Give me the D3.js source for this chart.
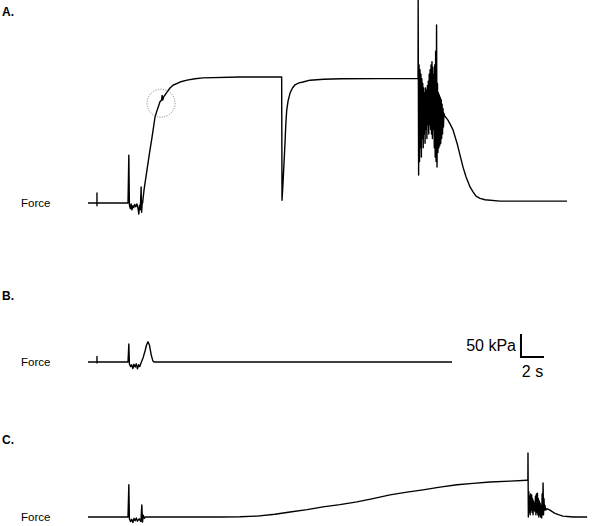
<!DOCTYPE html>
<html>
<head>
<meta charset="utf-8">
<script src="https://cdn.jsdelivr.net/npm/d3@7"></script>
<style>
  html, body { margin: 0; padding: 0; background: #fff; }
  svg { display: block; font-family: "Liberation Sans", Arial, sans-serif; }
</style>
</head>
<body>
<svg id="chart" width="600" height="526"></svg>
<script>
// Force traces, [time (s), force (kPa)]
const traceA = [
  [0, 0], [0.78, 0], [0.78, 22], [0.78, -6], [0.78, 0], [3.48, 0], [3.55, 104], [3.6, -4], [3.68, -12], [3.75, -2],
  [3.82, -15], [3.9, -6], [3.98, -10], [4.05, -3], [4.15, -8], [4.25, -2], [4.35, -12], [4.42, -24], [4.48, -5],
  [4.55, -14], [4.62, 35], [4.66, -20], [4.72, 2], [4.75, 0], [4.87, 28], [5.13, 72], [5.35, 109], [5.57, 143],
  [5.83, 187], [6.04, 204], [6.26, 220], [6.4, 224], [6.45, 234], [6.5, 224], [6.57, 230], [6.87, 241], [7.13, 250],
  [7.39, 256], [8.0, 263], [8.61, 267], [9.3, 270], [10.0, 272], [13.2, 274],
  [16.84, 274], [16.87, 6], [16.95, 40], [17.05, 90], [17.13, 130], [17.2, 170], [17.28, 202], [17.4, 222],
  [17.57, 239], [17.78, 250], [18.0, 257], [18.35, 261], [18.7, 263], [19.3, 267], [20.5, 269], [22.0, 270], [28.7, 271],
  [28.71, 441], [28.75, 61], [28.79, 300], [28.83, 90], [28.87, 290], [28.91, 120], [28.95, 280], [28.99, 100],
  [29.03, 270], [29.07, 140], [29.11, 260], [29.15, 120], [29.19, 250], [29.23, 150], [29.27, 240], [29.31, 130],
  [29.35, 250], [29.39, 160], [29.43, 245], [29.47, 140], [29.51, 255], [29.55, 170], [29.59, 265], [29.63, 150],
  [29.67, 280], [29.71, 170], [29.75, 290], [29.79, 160], [29.83, 300], [29.87, 150], [29.91, 307], [29.95, 140],
  [29.99, 295], [30.03, 160], [30.07, 280], [30.11, 120], [30.15, 300], [30.19, 100], [30.23, 330], [30.27, 90],
  [30.31, 387], [30.35, 78], [30.39, 260], [30.43, 110], [30.47, 240], [30.51, 120], [30.55, 235], [30.59, 125],
  [30.63, 230], [30.67, 130], [30.71, 225], [30.75, 140], [30.79, 215], [30.83, 150], [30.87, 205], [30.91, 165],
  [30.95, 195], [31.0, 190], [31.3, 180], [31.48, 172], [31.74, 159], [32.09, 130], [32.35, 104], [32.61, 78],
  [32.87, 57], [33.22, 35], [33.48, 24], [33.74, 15], [34.09, 10], [34.52, 7], [35.83, 4], [41.65, 4]
];

const traceB = [
  [0, 0], [0.78, 0], [0.78, 12], [0.78, -2], [0.78, 0], [3.48, 0], [3.55, 39], [3.6, -4], [3.7, -10], [3.8, -6],
  [3.9, -14], [4.0, -5], [4.1, -11], [4.2, -4], [4.3, -15], [4.4, -6], [4.5, -10], [4.61, -2], [4.8, 10],
  [4.96, 24], [5.1, 38], [5.22, 44], [5.35, 36], [5.5, 15], [5.65, 2], [5.74, 0], [31.65, 0]
];

const traceC = [
  [0, 0], [3.48, 0], [3.55, 70], [3.6, -4], [3.7, -10], [3.8, -5], [3.9, -12], [4.0, -3], [4.1, -8], [4.2, -2],
  [4.3, -9], [4.45, -4], [4.6, -10], [4.68, 26], [4.74, -11], [4.8, 4], [4.9, -3], [4.96, 0], [8.87, 0],
  [11.5, 0], [13.2, 0.5], [14.7, 2], [16.26, 6], [17.57, 11], [19.05, 16], [20.43, 22], [21.9, 27], [23.39, 33],
  [24.78, 40], [26.26, 48], [27.74, 54], [29.13, 59], [30.6, 65], [32.09, 70], [33.48, 73], [34.96, 76], [36.7, 78],
  [38.17, 80],
  [38.25, 80], [38.26, 139], [38.29, 0], [38.33, 55], [38.37, 10], [38.41, 45], [38.45, 5], [38.49, 50], [38.53, 15],
  [38.58, 48], [38.62, 10], [38.66, 40], [38.7, 5], [38.74, 35], [38.78, 15], [38.82, 30], [38.87, 12], [38.91, 45],
  [38.95, 5], [38.99, 50], [39.03, 10], [39.08, 52], [39.12, 5], [39.16, 40], [39.2, 0], [39.24, 35], [39.28, 5],
  [39.32, 30], [39.36, 0], [39.41, 25], [39.45, -2], [39.49, 50], [39.53, 5], [39.57, 74], [39.61, 5], [39.65, 40],
  [39.69, 15], [39.74, 25], [39.8, 15], [39.91, 18], [40.17, 15], [40.4, 11], [40.61, 8], [40.9, 5], [41.3, 2],
  [41.7, 1], [42.2, 0], [43.4, 0]
];

const panelLabels = ["A.", "B.", "C."];
const scaleBar = { t: 37.65, v: 11, dt: 2, dv: 50, tLabel: "2 s", vLabel: "50 kPa" };
const circleMark = { t: 6.35, v: 217 };

const svg = d3.select("#chart");

const pxPerSec = 11.5;
const pxPerKPa = 0.46;

const x = d3.scaleLinear().domain([0, 44]).range([88, 88 + 44 * pxPerSec]);
const baselines = [203, 362, 517];
const yScales = baselines.map(b => d3.scaleLinear().domain([0, 100]).range([b, b - 100 * pxPerKPa]));

const traces = [traceA, traceB, traceC];
const labelY = [16, 300, 444];

traces.forEach((tr, i) => {
  const y = yScales[i];
  const line = d3.line().x(d => x(d[0])).y(d => y(d[1]));

  svg.append("path")
    .datum(tr)
    .attr("d", line)
    .attr("fill", "none")
    .attr("stroke", "#000")
    .attr("stroke-width", 1.4)
    .attr("stroke-linejoin", "round");

  svg.append("text")
    .attr("x", 21)
    .attr("y", y(0) + 4)
    .attr("font-size", "11.5px")
    .attr("fill", "#000")
    .text("Force");

  svg.append("text")
    .attr("x", 2)
    .attr("y", labelY[i])
    .attr("font-size", "12px")
    .attr("font-weight", "bold")
    .attr("fill", "#000")
    .text(panelLabels[i]);
});

// dotted circle on trace A
svg.append("circle")
  .attr("cx", x(circleMark.t))
  .attr("cy", yScales[0](circleMark.v))
  .attr("r", 14)
  .attr("fill", "none")
  .attr("stroke", "#777")
  .attr("stroke-width", 1)
  .attr("stroke-dasharray", "1,1.5");

// scale bar (panel B)
const yB = yScales[1];
const sx0 = x(scaleBar.t), sx1 = x(scaleBar.t + scaleBar.dt);
const sy0 = yB(scaleBar.v), sy1 = yB(scaleBar.v + scaleBar.dv);

svg.append("path")
  .attr("d", `M${sx0},${sy1}L${sx0},${sy0}L${sx1},${sy0}`)
  .attr("fill", "none")
  .attr("stroke", "#000")
  .attr("stroke-width", 2);

svg.append("text")
  .attr("x", sx0 - 5)
  .attr("y", (sy0 + sy1) / 2 + 6)
  .attr("text-anchor", "end")
  .attr("font-size", "16px")
  .text(scaleBar.vLabel);

svg.append("text")
  .attr("x", (sx0 + sx1) / 2)
  .attr("y", sy0 + 20)
  .attr("text-anchor", "middle")
  .attr("font-size", "16px")
  .text(scaleBar.tLabel);
</script>
</body>
</html>
